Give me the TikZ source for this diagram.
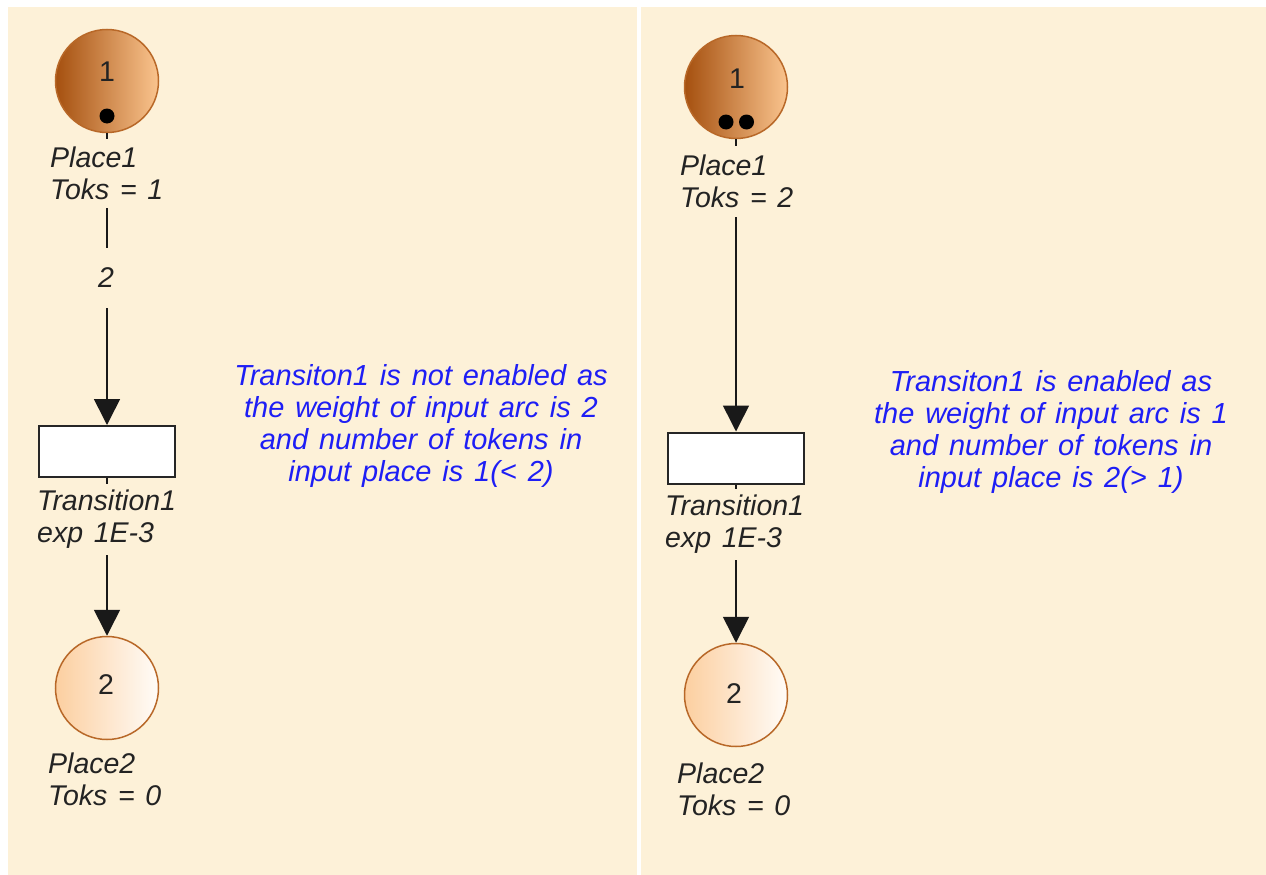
\documentclass[tikz,border=0pt]{standalone}
\usepackage{fontspec}
\setmainfont[WordSpace=1.35]{Liberation Sans}
\usetikzlibrary{arrows.meta}
\definecolor{bg}{RGB}{253,241,216}
\definecolor{pborder}{RGB}{184,104,40}
\definecolor{pdark}{RGB}{165,80,15}
\definecolor{plight}{RGB}{250,196,142}
\definecolor{qleft}{RGB}{252,207,160}
\definecolor{qright}{RGB}{255,252,248}
\definecolor{txt}{RGB}{35,35,35}
\definecolor{note}{RGB}{30,30,245}
\tikzset{
  place/.style={circle, draw=pborder, line width=1.5pt, minimum size=103pt, inner sep=0pt},
  fullplace/.style={place, left color=pdark, right color=plight},
  emptyplace/.style={place, left color=qleft, right color=qright},
  trans/.style={rectangle, draw=black!85, line width=2pt, fill=white, minimum width=136pt, minimum height=51pt, inner sep=0pt},
  token/.style={circle, fill=black, minimum size=15pt, inner sep=0pt},
  arc/.style={draw=black!90, line width=1.6pt, -{Triangle[width=26pt,length=26pt]}},
  lbl/.style={font=\fontsize{28.5}{32}\selectfont\itshape, text=txt, align=left, fill=bg, inner xsep=4pt, inner ysep=8pt, anchor=north west},
  num/.style={font=\fontsize{28.5}{32}\selectfont, text=txt, inner sep=0pt},
  notetext/.style={font=\fontsize{29}{32}\selectfont\itshape, text=note, align=center, inner sep=0pt, anchor=north},
  panel/.style={fill=bg, draw=none}
}
\begin{document}
\begin{tikzpicture}[x=1pt,y=-1pt]
\fill[white] (0,0) rectangle (1266,875);
\useasboundingbox (0,0) rectangle (1266,875);
\fill[panel] (8,7) rectangle (637,875);
\fill[panel] (641,7) rectangle (1266,875);

% ---------- left panel ----------
\node[fullplace] (lp1) at (107,81) {};
\node[num] (lp1n) at (107,72) {1};
\node[token] (lp1t) at (107,116) {};
\node[trans] (lt1) at (107,451.5) {};
\node[emptyplace] (lp2) at (107,688) {};
\node[num] (lp2n) at (106,684.5) {2};
\draw[arc] (lp1) -- (lt1);
\draw[arc] (lt1) -- (lp2);
\node[lbl] (lp1l) at (46,139) {Place1\\Toks = 1};
\node[lbl, inner ysep=20pt, anchor=center] (lw) at (106,278) {2};
\node[lbl, inner ysep=6pt] (lt1l) at (33,484) {Transition1\\exp 1E-3};
\node[lbl] (lp2l) at (44,745) {Place2\\Toks = 0};
\node[notetext] (lnote) at (421,364) {Transiton1 is not enabled as\\the weight of input arc is 2\\and number of tokens in\\input place is 1(< 2)};

% ---------- right panel ----------
\node[fullplace] (rp1) at (736,87) {};
\node[num] (rp1n) at (737,79) {1};
\node[token] (rp1ta) at (726,122) {};
\node[token] (rp1tb) at (746.5,122) {};
\node[trans] (rt1) at (736,458) {};
\node[emptyplace] (rp2) at (736,695) {};
\node[num] (rp2n) at (734,693.5) {2};
\draw[arc] (rp1) -- (rt1);
\draw[arc] (rt1) -- (rp2);
\node[lbl, inner ysep=9pt] (rp1l) at (676,146) {Place1\\Toks = 2};
\node[lbl, inner ysep=6pt] (rt1l) at (661,489) {Transition1\\exp 1E-3};
\node[lbl] (rp2l) at (673,755) {Place2\\Toks = 0};
\node[notetext] (rnote) at (1051,370) {Transiton1 is enabled as\\the weight of input arc is 1\\and number of tokens in\\input place is 2(> 1)};
\end{tikzpicture}
\end{document}
